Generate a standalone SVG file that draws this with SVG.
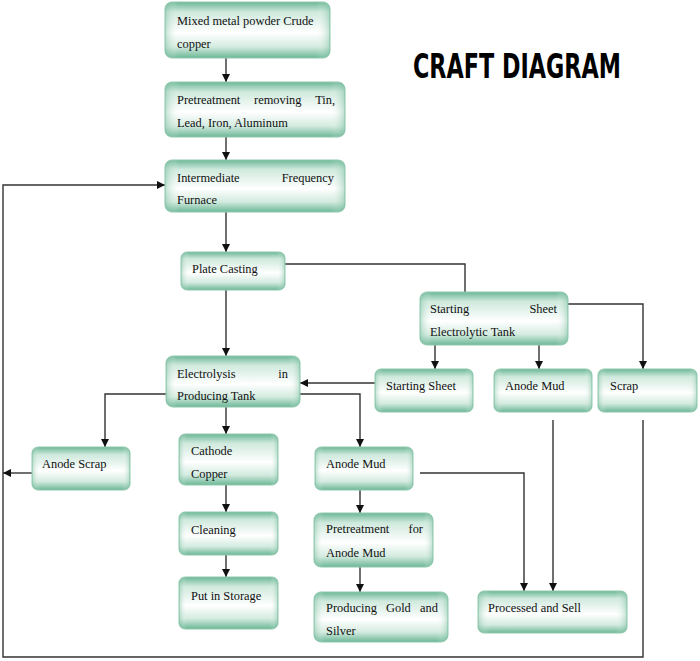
<svg xmlns="http://www.w3.org/2000/svg" width="700" height="661" viewBox="0 0 700 661">
<defs>
<linearGradient id="g" x1="0" y1="0" x2="0" y2="1">
<stop offset="0" stop-color="#6cb796"/>
<stop offset="0.18" stop-color="#cfe9dd"/>
<stop offset="0.55" stop-color="#ffffff"/>
<stop offset="0.8" stop-color="#d4ebe0"/>
<stop offset="1" stop-color="#6cb796"/>
</linearGradient>
<linearGradient id="h" x1="0" y1="0" x2="1" y2="0">
<stop offset="0" stop-color="#6cb796" stop-opacity="0.45"/>
<stop offset="0.08" stop-color="#ffffff" stop-opacity="0"/>
<stop offset="0.92" stop-color="#ffffff" stop-opacity="0"/>
<stop offset="1" stop-color="#6cb796" stop-opacity="0.45"/>
</linearGradient>
<marker id="a" viewBox="0 0 10 10" refX="10" refY="5" markerWidth="8" markerHeight="8" markerUnits="userSpaceOnUse" orient="auto">
<path d="M0,0 L10,5 L0,10 z" fill="#111"/>
</marker>
</defs>
<style>
.b{fill:url(#g);stroke:#8fc8ae;stroke-width:1}
.s{fill:url(#h);stroke:none}
.t{font-family:"Liberation Serif","Times New Roman",serif;font-size:12.4px;fill:#111}
.e{text-anchor:end}
.c{fill:none;stroke:#333;stroke-width:1.4}
.ar{marker-end:url(#a)}
.title{font-family:"DejaVu Sans Condensed","DejaVu Sans","Liberation Sans",sans-serif;font-weight:bold;font-size:34px;fill:#000}
</style>
<rect width="700" height="661" fill="#fff"/>
<text class="title" x="413" y="78" textLength="208" lengthAdjust="spacingAndGlyphs">CRAFT DIAGRAM</text>

<g id="connectors">
<path class="c ar" d="M226,58 V82"/>
<path class="c ar" d="M226,137 V160"/>
<path class="c ar" d="M226,212 V252"/>
<path class="c ar" d="M226,290 V356"/>
<path class="c" d="M285,264 H465 V292"/>
<path class="c ar" d="M435,345 V369"/>
<path class="c ar" d="M539,345 V369"/>
<path class="c ar" d="M568,304 H643 V369"/>
<path class="c ar" d="M375,383 H300"/>
<path class="c ar" d="M166,394 H105 V447"/>
<path class="c ar" d="M226,407 V434"/>
<path class="c ar" d="M300,394 H360 V447"/>
<path class="c ar" d="M32,473 H3"/>
<path class="c ar" d="M226,485 V512"/>
<path class="c ar" d="M226,555 V577"/>
<path class="c ar" d="M360,490 V513"/>
<path class="c ar" d="M360,567 V592"/>
<path class="c ar" d="M420,473 H524 V591"/>
<path class="c ar" d="M553,420 V591"/>
<path class="c ar" d="M643,420 V657 H3 V185 H165"/>
</g>

<g id="n1"><rect class="b" x="165" y="2" width="165" height="56" rx="7"/><rect class="s" x="165" y="2" width="165" height="56" rx="7"/>
<text class="t" x="177" y="25">Mixed metal powder Crude</text><text class="t" x="177" y="48">copper</text></g>

<g id="n2"><rect class="b" x="165" y="82" width="180" height="55" rx="7"/><rect class="s" x="165" y="82" width="180" height="55" rx="7"/>
<text class="t" x="177" y="104">Pretreatment</text><text class="t" x="254" y="104">removing</text><text class="t e" x="335" y="104">Tin,</text><text class="t" x="177" y="127">Lead, Iron, Aluminum</text></g>

<g id="n3"><rect class="b" x="165" y="160" width="180" height="52" rx="7"/><rect class="s" x="165" y="160" width="180" height="52" rx="7"/>
<text class="t" x="177" y="182">Intermediate</text><text class="t e" x="334" y="182">Frequency</text><text class="t" x="177" y="204">Furnace</text></g>

<g id="n4"><rect class="b" x="181" y="252" width="104" height="38" rx="6"/><rect class="s" x="181" y="252" width="104" height="38" rx="6"/>
<text class="t" x="192" y="273">Plate Casting</text></g>

<g id="n5"><rect class="b" x="420" y="292" width="148" height="53" rx="7"/><rect class="s" x="420" y="292" width="148" height="53" rx="7"/>
<text class="t" x="430" y="313">Starting</text><text class="t e" x="557" y="313">Sheet</text><text class="t" x="430" y="336">Electrolytic Tank</text></g>

<g id="n6"><rect class="b" x="166" y="356" width="134" height="51" rx="7"/><rect class="s" x="166" y="356" width="134" height="51" rx="7"/>
<text class="t" x="177" y="378">Electrolysis</text><text class="t e" x="288" y="378">in</text><text class="t" x="177" y="400">Producing Tank</text></g>

<g id="n7"><rect class="b" x="375" y="369" width="98" height="43" rx="6"/><rect class="s" x="375" y="369" width="98" height="43" rx="6"/>
<text class="t" x="386" y="390">Starting Sheet</text></g>

<g id="n8"><rect class="b" x="494" y="369" width="98" height="43" rx="6"/><rect class="s" x="494" y="369" width="98" height="43" rx="6"/>
<text class="t" x="505" y="390">Anode Mud</text></g>

<g id="n9"><rect class="b" x="598" y="369" width="99" height="43" rx="6"/><rect class="s" x="598" y="369" width="99" height="43" rx="6"/>
<text class="t" x="610" y="390">Scrap</text></g>

<g id="n10"><rect class="b" x="32" y="447" width="98" height="43" rx="6"/><rect class="s" x="32" y="447" width="98" height="43" rx="6"/>
<text class="t" x="42" y="468">Anode Scrap</text></g>

<g id="n11"><rect class="b" x="179" y="434" width="99" height="51" rx="6"/><rect class="s" x="179" y="434" width="99" height="51" rx="6"/>
<text class="t" x="191" y="455">Cathode</text><text class="t" x="191" y="478">Copper</text></g>

<g id="n12"><rect class="b" x="179" y="512" width="99" height="43" rx="6"/><rect class="s" x="179" y="512" width="99" height="43" rx="6"/>
<text class="t" x="191" y="534">Cleaning</text></g>

<g id="n13"><rect class="b" x="179" y="577" width="99" height="52" rx="6"/><rect class="s" x="179" y="577" width="99" height="52" rx="6"/>
<text class="t" x="191" y="600">Put in Storage</text></g>

<g id="n14"><rect class="b" x="315" y="447" width="98" height="43" rx="6"/><rect class="s" x="315" y="447" width="98" height="43" rx="6"/>
<text class="t" x="326" y="468">Anode Mud</text></g>

<g id="n15"><rect class="b" x="314" y="513" width="119" height="54" rx="7"/><rect class="s" x="314" y="513" width="119" height="54" rx="7"/>
<text class="t" x="326" y="533">Pretreatment</text><text class="t e" x="423" y="533">for</text><text class="t" x="326" y="557">Anode Mud</text></g>

<g id="n16"><rect class="b" x="314" y="592" width="134" height="50" rx="7"/><rect class="s" x="314" y="592" width="134" height="50" rx="7"/>
<text class="t" x="326" y="612">Producing</text><text class="t" x="386" y="612">Gold</text><text class="t e" x="438" y="612">and</text><text class="t" x="326" y="635">Silver</text></g>

<g id="n17"><rect class="b" x="478" y="591" width="149" height="42" rx="6"/><rect class="s" x="478" y="591" width="149" height="42" rx="6"/>
<text class="t" x="488" y="612">Processed and Sell</text></g>
</svg>
